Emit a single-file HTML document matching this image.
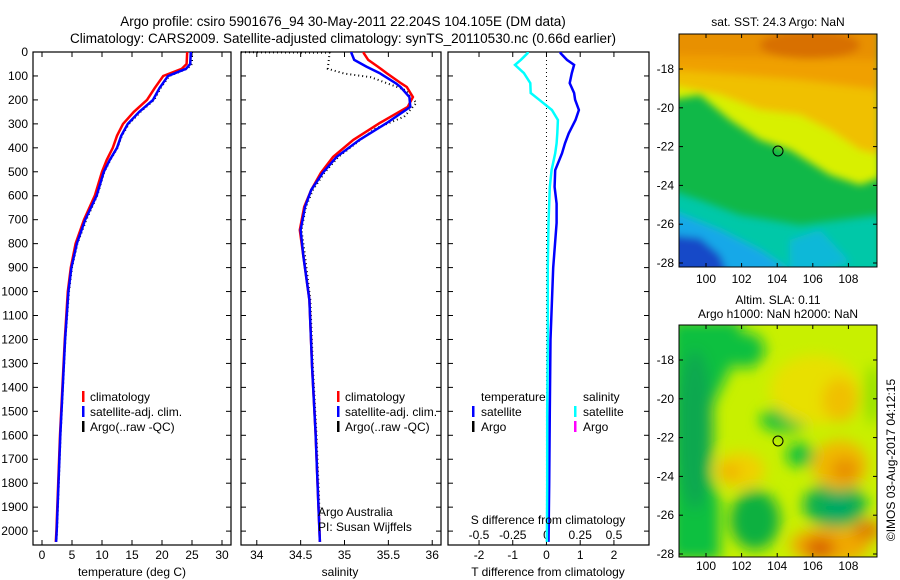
<!DOCTYPE html>
<html><head><meta charset="utf-8"><style>
html,body{margin:0;padding:0;background:#fff;}
svg{display:block;font-family:"Liberation Sans",sans-serif;}
</style></head><body>
<svg id="c" width="900" height="580" viewBox="0 0 900 580">
<defs>
<filter id="bl" x="-20%" y="-20%" width="140%" height="140%"><feGaussianBlur stdDeviation="4"/></filter>
<filter id="bl2" x="-20%" y="-20%" width="140%" height="140%"><feGaussianBlur stdDeviation="7"/></filter>
<clipPath id="m1"><rect x="679" y="34" width="198" height="233"/></clipPath>
<clipPath id="m2"><rect x="679" y="325" width="198" height="232"/></clipPath>
</defs>
<text x="343" y="26" font-size="13.5" text-anchor="middle">Argo profile: csiro 5901676_94 30-May-2011 22.204S 104.105E (DM data)</text>
<text x="343" y="43" font-size="13.5" text-anchor="middle">Climatology: CARS2009. Satellite-adjusted climatology: synTS_20110530.nc (0.66d earlier)</text>

<!-- SST map -->
<g clip-path="url(#m1)">
<rect x="679" y="34" width="198" height="233" fill="#10b848"/>
<g filter="url(#bl)">
<polygon points="670,190 700,200 740,215 800,225 880,215 880,280 670,280" fill="#00c8a8"/>
<polygon points="670,210 720,230 760,250 790,270 670,280" fill="#18a8e8"/>
<polygon points="790,240 820,230 850,262 790,280" fill="#10b8d8"/>
<polygon points="670,235 700,238 720,255 730,280 670,280" fill="#1848c8"/>
<polygon points="670,100 700,95 730,120 760,140 790,150 830,175 860,185 880,178 880,20 670,20" fill="#d8f000"/>
<polygon points="670,85 720,95 760,110 800,115 830,130 860,150 880,155 880,20 670,20" fill="#f0c000"/>
<polygon points="670,70 740,75 800,80 880,90 880,20 670,20" fill="#f0a000"/>
<polygon points="670,55 880,60 880,20 670,20" fill="#e89000"/>
<ellipse cx="810" cy="45" rx="50" ry="14" fill="#d87000"/>
</g>
</g>
<rect x="679" y="34" width="198" height="233" fill="none" stroke="#000"/>
<circle cx="778" cy="151" r="5" fill="none" stroke="#000"/>
<text x="778" y="26" font-size="12" text-anchor="middle">sat. SST: 24.3 Argo: NaN</text>

<!-- SLA map -->
<g clip-path="url(#m2)">
<rect x="679" y="325" width="198" height="232" fill="#c8f000"/>
<g filter="url(#bl2)">
<polygon points="670,320 740,320 740,340 730,370 715,400 700,450 720,500 720,560 670,560" fill="#10c040"/>
<ellipse cx="695" cy="430" rx="18" ry="80" fill="#10a850"/>
<ellipse cx="745" cy="350" rx="20" ry="18" fill="#10c040"/>
<ellipse cx="785" cy="420" rx="25" ry="12" fill="#10c040"/>
<ellipse cx="810" cy="385" rx="10" ry="14" fill="#10c040"/>
<ellipse cx="800" cy="455" rx="14" ry="12" fill="#10c040"/>
<ellipse cx="835" cy="505" rx="32" ry="22" fill="#10b050"/>
<ellipse cx="838" cy="508" rx="14" ry="10" fill="#00a868"/>
<ellipse cx="755" cy="520" rx="25" ry="30" fill="#10b040"/>
<ellipse cx="873" cy="395" rx="8" ry="30" fill="#90e000"/>
<ellipse cx="815" cy="390" rx="45" ry="35" fill="#e8e000"/>
<ellipse cx="840" cy="400" rx="18" ry="22" fill="#f0c000"/>
<ellipse cx="840" cy="465" rx="28" ry="25" fill="#f0b800"/>
<ellipse cx="845" cy="470" rx="14" ry="12" fill="#e89000"/>
<ellipse cx="740" cy="470" rx="25" ry="18" fill="#f0d000"/>
<ellipse cx="730" cy="472" rx="10" ry="8" fill="#f0b000"/>
<ellipse cx="830" cy="545" rx="40" ry="18" fill="#f0a800"/>
<ellipse cx="820" cy="548" rx="15" ry="10" fill="#d86000"/>
<ellipse cx="867" cy="530" rx="15" ry="10" fill="#e08000"/>
</g>
</g>
<rect x="679" y="325" width="198" height="232" fill="none" stroke="#000"/>
<circle cx="778" cy="441" r="5" fill="none" stroke="#000"/>
<text x="778" y="304" font-size="12" text-anchor="middle">Altim. SLA: 0.11</text>
<text x="778" y="318" font-size="12" text-anchor="middle">Argo h1000: NaN h2000: NaN</text>
<text transform="translate(895,460) rotate(-90)" font-size="12" text-anchor="middle">©IMOS 03-Aug-2017 04:12:15</text>
<g id="dyn"></g>
</svg>
<script>
// ---- data ----
const depthTicks = [0,100,200,300,400,500,600,700,800,900,1000,1100,1200,1300,1400,1500,1600,1700,1800,1900,2000];
const tempTicks = [0,5,10,15,20,25,30];
const salTicks = [34,34.5,35,35.5,36];
const tDiffTicks = [-2,-1,0,1,2];
const sDiffTicks = [-0.5,-0.25,0,0.25,0.5];
const lonTicks = [100,102,104,106,108];
const latTicks = [-18,-20,-22,-24,-26,-28];

const tempDepth = [0,50,70,100,150,200,250,300,350,400,450,500,600,700,800,900,1000,1200,1400,1600,1800,2000,2045];
const tempClim = [24.2,24.1,23.3,20.2,18.8,17.5,15.3,13.5,12.5,11.8,10.8,10,8.8,7,5.6,4.8,4.3,3.8,3.4,3.0,2.7,2.4,2.3];
const tempSat = [24.8,24.7,24.0,21,19.6,18.5,16.2,14.3,13.2,12.5,11.3,10.3,9.1,7.2,5.8,4.9,4.4,3.85,3.45,3.05,2.75,2.45,2.35];
const tempArgo = [25.0,25.0,24.2,21.2,19.8,18.7,16.4,14.5,13.3,12.6,11.4,10.4,9.2,7.4,5.9,5.0,4.5,3.9,3.5,3.1,2.8,2.5,2.4];

const salDepth = [0,5,33,61,88,132,146,188,229,297,367,438,505,576,646,743,850,1035,1315,1592,1870,2045];
const salClim = [35.22,35.22,35.27,35.38,35.48,35.65,35.71,35.78,35.72,35.4,35.1,34.87,34.73,34.62,34.54,34.49,34.53,34.6,34.63,34.67,34.7,34.72];
const salSat = [35.08,35.08,35.11,35.25,35.4,35.59,35.64,35.74,35.75,35.48,35.17,34.91,34.75,34.62,34.55,34.5,34.53,34.6,34.63,34.67,34.7,34.72];
const argoSDepth = [1,3,70,90,105,130,160,213,270,320,367,438,505,576,646,743,850,1035,1315,1592,1870,2045];
const salArgo = [33.82,34.83,34.81,35.0,35.3,35.48,35.7,35.82,35.68,35.35,35.18,34.93,34.77,34.64,34.56,34.51,34.55,34.61,34.64,34.68,34.71,34.72];

const diffDepth = [0,5,33,54,88,130,171,199,242,284,340,381,423,493,563,633,714,900,1200,1500,1800,2045];
const tDiff = [0.42,0.42,0.61,0.82,0.75,0.69,0.82,0.85,0.96,0.86,0.66,0.55,0.46,0.26,0.24,0.3,0.3,0.2,0.12,0.1,0.08,0.06];
const sDiff = [-0.14,-0.14,-0.19,-0.233,-0.167,-0.12,-0.117,-0.055,0.04,0.085,0.08,0.075,0.065,0.038,0.025,0.02,0.015,0.01,0.01,0.005,0.005,0.003];

// ---- scales ----
const TOP=52, BOT=545;
const yD = d => TOP + (d/2058)*(BOT-TOP);
const P1={l:33,r:231,min:-1.5,max:31.5};
const P2={l:241,r:441,min:33.82,max:36.1};
const P3={l:448,r:649,min:-2.92,max:3.04};
const sx = (p,v) => p.l + (v-p.min)/(p.max-p.min)*(p.r-p.l);
const sxS = v => sx(P3, v*4);
const lonX = lon => 706 + (lon-100)*17.8;
const latY1 = lat => 69 + (-18-lat)*19.4;
const latY2 = lat => 360 + (-18-lat)*19.4;

const NS='http://www.w3.org/2000/svg';
const g=document.getElementById('dyn');
function mk(tag,attrs,parent){const e=document.createElementNS(NS,tag);for(const k in attrs)e.setAttribute(k,attrs[k]);(parent||g).appendChild(e);return e;}
function txt(x,y,s,anchor,size){const e=mk('text',{x:x,y:y,'font-size':size||12,'text-anchor':anchor||'middle'});e.textContent=s;return e;}

function frame(p,name){
  const r=mk('rect',{x:p.l,y:TOP,width:p.r-p.l,height:BOT-TOP,fill:'none',stroke:'#000','stroke-width':1.2});
  
  
  depthTicks.forEach(d=>{
    mk('line',{x1:p.l,x2:p.l+5,y1:yD(d),y2:yD(d),stroke:'#000'});
    mk('line',{x1:p.r-5,x2:p.r,y1:yD(d),y2:yD(d),stroke:'#000'});
  });
}
function line(p,fx,vals,deps,color,w,name,dash){
  const pts=vals.map((v,i)=>fx(v).toFixed(1)+','+yD(deps[i]).toFixed(1)).join(' ');
  const a={points:pts,fill:'none',stroke:color,'stroke-width':w,'stroke-linejoin':'miter'};
  if(dash)a['stroke-dasharray']=dash;
  const e=mk('polyline',a);
  
  
}
function legendBar(x,y,color){mk('rect',{x:x,y:y-10,width:2.5,height:11,fill:color});}

// Panel 1
frame(P1,'temperature-panel');
depthTicks.forEach(d=>{const t=txt(28,yD(d)+4,String(d),'end',12);
  
  });
tempTicks.forEach(v=>{const x=sx(P1,v);
  mk('line',{x1:x,x2:x,y1:TOP,y2:TOP+5,stroke:'#000'});mk('line',{x1:x,x2:x,y1:BOT-5,y2:BOT,stroke:'#000'});
  const t=txt(x,559,String(v));
  
  });
line(P1,v=>sx(P1,v),tempArgo,tempDepth,'#000',2,'temperature-argo-line','1,3');
line(P1,v=>sx(P1,v),tempClim,tempDepth,'#f00',2.5,'temperature-climatology-line');
line(P1,v=>sx(P1,v),tempSat,tempDepth,'#00f',2.5,'temperature-satellite-line');
let t1=txt(132,576,'temperature (deg C)');


[['climatology','#f00'],['satellite-adj. clim.','#00f'],['Argo(..raw -QC)','#000']].forEach((l,i)=>{
  legendBar(82,401+i*15,l[1]);const t=txt(90,401+i*15,l[0],'start',12);
  
  });

// Panel 2
frame(P2,'salinity-panel');
salTicks.forEach(v=>{const x=sx(P2,v);
  mk('line',{x1:x,x2:x,y1:TOP,y2:TOP+5,stroke:'#000'});mk('line',{x1:x,x2:x,y1:BOT-5,y2:BOT,stroke:'#000'});
  const t=txt(x,559,String(v));
  
  });
line(P2,v=>sx(P2,v),salArgo,argoSDepth,'#000',2,'salinity-argo-line','1,3');
line(P2,v=>sx(P2,v),salClim,salDepth,'#f00',2.5,'salinity-climatology-line');
line(P2,v=>sx(P2,v),salSat,salDepth,'#00f',2.5,'salinity-satellite-line');
let t2=txt(340,576,'salinity');


[['climatology','#f00'],['satellite-adj. clim.','#00f'],['Argo(..raw -QC)','#000']].forEach((l,i)=>{
  legendBar(337,401+i*15,l[1]);const t=txt(345,401+i*15,l[0],'start',12);
  
  });
let a1=txt(318,516,'Argo Australia','start',12);


let a2=txt(318,531,'PI: Susan Wijffels','start',12);



// Panel 3
frame(P3,'difference-panel');
mk('line',{x1:sx(P3,0),x2:sx(P3,0),y1:TOP,y2:BOT,stroke:'#000','stroke-dasharray':'1,3'});
tDiffTicks.forEach(v=>{const x=sx(P3,v);
  mk('line',{x1:x,x2:x,y1:TOP,y2:TOP+5,stroke:'#000'});mk('line',{x1:x,x2:x,y1:BOT-5,y2:BOT,stroke:'#000'});
  const t=txt(x,559,String(v));
  
  });
sDiffTicks.forEach(v=>{const t=txt(sxS(v),539,String(v));
  
  });
line(P3,v=>sx(P3,v),tDiff,diffDepth,'#00f',2.5,'t-diff-satellite-line');
line(P3,sxS,sDiff,diffDepth,'#0ff',2.5,'s-diff-satellite-line');
let t3=txt(548,524,'S difference from climatology');


let t4=txt(548,576,'T difference from climatology');


[['temperature',481,401,null],['satellite',481,416,'#00f'],['Argo',481,431,'#000'],['salinity',583,401,null],['satellite',583,416,'#0ff'],['Argo',583,431,'#f0f']].forEach(l=>{
  if(l[3])legendBar(l[1]-9,l[2],l[3]);const t=txt(l[1],l[2],l[0],'start',12);
  
  });

// Map axes
[[latY1,34,267,283],[latY2,325,557,570]].forEach(m=>{
  lonTicks.forEach(v=>{const x=lonX(v);
    mk('line',{x1:x,x2:x,y1:m[1],y2:m[1]+4,stroke:'#000'});mk('line',{x1:x,x2:x,y1:m[2]-4,y2:m[2],stroke:'#000'});
    const t=txt(x,m[3],String(v));
    
    });
  latTicks.forEach(v=>{const y=m[0](v);
    mk('line',{x1:679,x2:683,y1:y,y2:y,stroke:'#000'});mk('line',{x1:873,x2:877,y1:y,y2:y,stroke:'#000'});
    const t=txt(674,y+4,String(v),'end');
    
    });
});
</script>
</body></html>
